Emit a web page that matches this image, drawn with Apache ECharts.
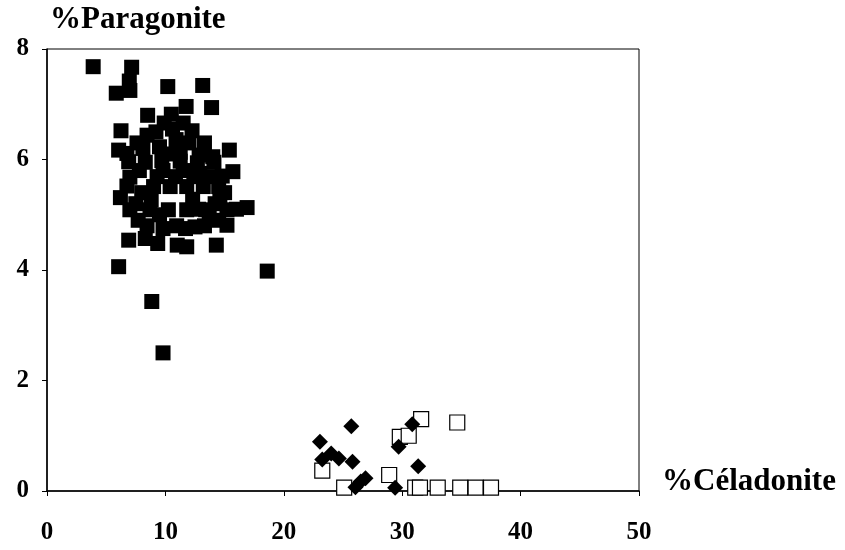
<!DOCTYPE html>
<html>
<head>
<meta charset="utf-8">
<script src="https://cdn.jsdelivr.net/npm/echarts@6/dist/echarts.min.js"></script>
<style>html,body{margin:0;padding:0;background:#fff}#c{width:845px;height:550px}</style>
</head>
<body>
<div id="c"></div>
<script>
// Data: [ %Céladonite, %Paragonite ]
const blackSquares = [
  [3.9,7.68],[7.15,7.67],[6.95,7.42],[5.85,7.2],[7.0,7.25],[10.2,7.32],[13.15,7.34],
  [11.75,6.96],[13.9,6.94],[8.5,6.8],[10.5,6.82],[6.25,6.52],[15.4,6.17],[6.05,6.17],
  [9.9,6.66],[11.5,6.66],[12.25,6.52],[8.45,6.44],[10.9,6.36],[8.1,6.2],[9.5,6.23],
  [6.75,6.11],[11.25,6.13],[12.85,6.08],[10.2,6.1],
  [9.2,6.5],[10.6,6.55],[12.0,6.3],[13.3,6.3],[7.6,6.3],[14.0,6.05],
  [6.9,5.96],[8.3,5.95],[9.7,5.98],[11.25,5.97],[12.7,5.94],[14.1,5.95],
  [15.7,5.78],[7.8,5.8],[9.8,5.8],[11.5,5.8],[12.9,5.75],[14.8,5.7],
  [7.0,5.68],[9.3,5.69],[10.85,5.69],[12.4,5.69],[13.95,5.69],[6.75,5.52],
  [9.0,5.51],[10.4,5.51],[11.8,5.51],[13.2,5.51],[14.5,5.51],[8.0,5.4],
  [6.2,5.31],[8.8,5.27],[12.3,5.28],[14.6,5.28],[15.0,5.4],
  [7.0,5.09],[8.7,5.09],[10.25,5.09],[11.8,5.09],[13.4,5.09],[15.2,5.09],[16.9,5.13],
  [7.5,5.2],[9.5,5.0],[12.8,5.1],[14.2,5.2],[16.0,5.1],
  [8.45,4.8],[10.95,4.8],[12.5,4.78],[15.2,4.81],[13.7,4.97],
  [7.7,4.9],[9.8,4.75],[11.7,4.75],[13.3,4.8],[14.5,4.9],
  [6.9,4.54],[8.3,4.57],[9.35,4.48],[11.0,4.45],[11.8,4.42],[14.3,4.45],
  [6.05,4.06],[18.6,3.98],[8.85,3.43],[9.8,2.5]
];
const blackDiamonds = [
  [25.7,1.17],[23.05,0.89],[23.25,0.57],[24.0,0.68],[24.65,0.59],[25.8,0.53],
  [26.05,0.07],[26.5,0.17],[26.9,0.23],[29.7,0.8],[30.85,1.21],[31.35,0.45],[29.4,0.06]
];
const openSquares = [
  [31.6,1.3],[34.65,1.24],[29.8,0.98],[30.55,1.0],[23.25,0.37],[28.9,0.29],[25.1,0.06],
  [31.1,0.06],[31.5,0.06],[33.0,0.06],[34.9,0.06],[36.2,0.06],[37.5,0.06]
];
const xTicks = {min: 0, max: 50, step: 10};
const yTicks = {min: 0, max: 8, step: 2};
const xTitle = '%Céladonite';
const yTitle = '%Paragonite';

const FONT = '"Liberation Serif","DejaVu Serif",serif';
const chart = echarts.init(document.getElementById('c'), null, {renderer: 'canvas'});
chart.setOption({
  animation: false,
  backgroundColor: '#fff',
  grid: {left: 47, right: 206, top: 49, bottom: 59, show: true, borderColor: '#000', borderWidth: 1},
  xAxis: {
    type: 'value', min: xTicks.min, max: xTicks.max, interval: xTicks.step,
    axisLine: {show: true, lineStyle: {color: '#000', width: 1.5}},
    axisTick: {show: true, length: 5, lineStyle: {color: '#000', width: 1}},
    splitLine: {show: false},
    axisLabel: {color: '#000', fontFamily: FONT, fontWeight: 'bold', fontSize: 25, margin: 29}
  },
  yAxis: {
    type: 'value', min: yTicks.min, max: yTicks.max, interval: yTicks.step,
    axisLine: {show: true, lineStyle: {color: '#000', width: 1.5}},
    axisTick: {show: true, length: 5, lineStyle: {color: '#000', width: 1}},
    splitLine: {show: false},
    axisLabel: {color: '#000', fontFamily: FONT, fontWeight: 'bold', fontSize: 25, margin: 18}
  },
  graphic: [
    {type: 'text', left: 50, top: 4, style: {text: yTitle, fill: '#000', font: 'bold 31px ' + FONT}},
    {type: 'text', left: 662, top: 466, style: {text: xTitle, fill: '#000', font: 'bold 31px ' + FONT}}
  ],
  series: [
    {type: 'scatter', data: blackSquares, symbol: 'rect', symbolSize: 15,
     itemStyle: {color: '#000', opacity: 1}},
    {type: 'scatter', data: openSquares, symbol: 'rect', symbolSize: 15,
     itemStyle: {color: '#fff', borderColor: '#000', borderWidth: 1.2, opacity: 1}},
    {type: 'scatter', data: blackDiamonds, symbol: 'diamond', symbolSize: 16,
     itemStyle: {color: '#000', opacity: 1}}
  ]
});
</script>
</body>
</html>
